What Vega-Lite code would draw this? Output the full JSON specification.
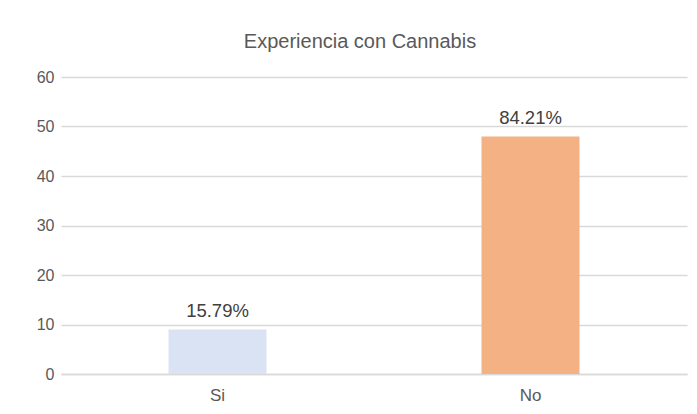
{
  "$schema": "https://vega.github.io/schema/vega-lite/v6.json",
  "width": 626,
  "height": 297,
  "autosize": "none",
  "padding": {"left": 61, "top": 77, "right": 10, "bottom": 40},
  "background": "white",
  "config": {
    "view": {"stroke": null},
    "font": "Liberation Sans"
  },
  "title": {
    "text": "Experiencia con Cannabis",
    "fontSize": 20,
    "font": "Liberation Sans",
    "fontWeight": "normal",
    "color": "#595959",
    "anchor": "middle",
    "dx": -14,
    "offset": 17
  },
  "data": {
    "values": [
      {"cat": "Si", "value": 9, "label": "15.79%", "color": "#dae3f3"},
      {"cat": "No", "value": 48, "label": "84.21%", "color": "#f4b183"}
    ]
  },
  "encoding": {
    "x": {
      "field": "cat",
      "type": "nominal",
      "sort": ["Si", "No"],
      "scale": {"paddingInner": 0.687, "paddingOuter": 0.3435},
      "axis": {
        "title": null,
        "labelAngle": 0,
        "labelFontSize": 17,
        "labelColor": "#595959",
        "labelPadding": 13,
        "ticks": false,
        "domainColor": "#d9d9d9",
        "domainWidth": 1.5
      }
    },
    "y": {
      "field": "value",
      "type": "quantitative",
      "scale": {"domain": [0, 60]},
      "axis": {
        "title": null,
        "values": [0, 10, 20, 30, 40, 50, 60],
        "labelFontSize": 16,
        "labelColor": "#595959",
        "labelPadding": 7,
        "ticks": false,
        "domain": false,
        "gridColor": "#d9d9d9",
        "gridWidth": 1.5
      }
    }
  },
  "layer": [
    {
      "mark": {"type": "bar"},
      "encoding": {
        "color": {"field": "color", "type": "nominal", "scale": null}
      }
    },
    {
      "mark": {"type": "text", "baseline": "alphabetic", "dy": -12, "fontSize": 18.5, "color": "#404040"},
      "encoding": {
        "text": {"field": "label"}
      }
    }
  ]
}
